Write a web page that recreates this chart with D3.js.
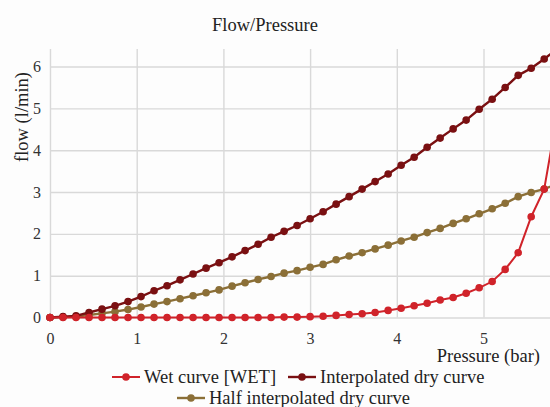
<!DOCTYPE html>
<html>
<head>
<meta charset="utf-8">
<script src="https://cdn.jsdelivr.net/npm/d3@7"></script>
<style>
  body { margin: 0; background: #fdfdfd; }
  svg text { font-family: "Liberation Serif", "Times New Roman", Times, "DejaVu Serif", serif; }
</style>
</head>
<body>
<svg id="chart"></svg>
<script>
// pressure (bar) at each sample
const pressure = [0, 0.15, 0.3, 0.45, 0.6, 0.75, 0.9, 1.05, 1.2, 1.35, 1.5, 1.65, 1.8, 1.95,
  2.1, 2.25, 2.4, 2.55, 2.7, 2.85, 3.0, 3.15, 3.3, 3.45, 3.6, 3.75, 3.9, 4.05,
  4.2, 4.35, 4.5, 4.65, 4.8, 4.95, 5.1, 5.25, 5.4, 5.55, 5.7, 5.85];

// flow (l/min)
const wetCurve = [0, 0, 0, 0, 0, 0, 0, 0, 0, 0, 0, 0, 0, 0,
  0, 0, 0, 0, 0.01, 0.01, 0.02, 0.03, 0.05, 0.07, 0.09, 0.12, 0.17, 0.22,
  0.28, 0.34, 0.42, 0.48, 0.58, 0.71, 0.86, 1.15, 1.55, 2.41, 3.07, 4.85];

const dryCurve = [0, 0.02, 0.04, 0.12, 0.2, 0.28, 0.38, 0.5, 0.64, 0.76, 0.9, 1.04, 1.18, 1.31,
  1.45, 1.6, 1.75, 1.92, 2.06, 2.2, 2.36, 2.53, 2.71, 2.89, 3.07, 3.25, 3.43, 3.64,
  3.83, 4.07, 4.29, 4.51, 4.72, 4.98, 5.22, 5.5, 5.79, 5.96, 6.18, 6.42];

const halfDryCurve = [0, 0.01, 0.02, 0.06, 0.1, 0.14, 0.19, 0.25, 0.32, 0.38, 0.45, 0.52, 0.59, 0.66,
  0.75, 0.83, 0.91, 0.98, 1.06, 1.12, 1.2, 1.27, 1.38, 1.47, 1.55, 1.64, 1.73, 1.83,
  1.92, 2.03, 2.13, 2.25, 2.36, 2.48, 2.6, 2.73, 2.89, 2.99, 3.07, 3.2];

const xTicks = [0, 1, 2, 3, 4, 5];
const yTicks = [0, 1, 2, 3, 4, 5, 6];

const series = [
  { name: 'Wet curve [WET]', values: wetCurve, color: '#d0232a', width: 2 },
  { name: 'Interpolated dry curve', values: dryCurve, color: '#7a1012', width: 2.4 },
  { name: 'Half interpolated dry curve', values: halfDryCurve, color: '#8b6f37', width: 2.4 }
];

const W = 550, H = 407;
const margin = { top: 49, right: 0, bottom: 89.5, left: 50 };
const serif = '"Liberation Serif", "Times New Roman", Times, "DejaVu Serif", serif';

const svg = d3.select('#chart').attr('width', W).attr('height', H);

const x = d3.scaleLinear().domain([0, 5.767]).range([margin.left, W - margin.right]);
const y = d3.scaleLinear().domain([0, 6.42]).range([H - margin.bottom, margin.top]);

svg.append('defs').append('clipPath').attr('id', 'plot-clip')
  .append('rect')
  .attr('x', margin.left - 5).attr('y', margin.top)
  .attr('width', W).attr('height', H - margin.bottom - margin.top + 5);

// gridlines
svg.append('g')
  .attr('transform', `translate(0, ${margin.top})`)
  .call(d3.axisBottom(x).tickValues(xTicks).tickSize(y(0) - margin.top).tickFormat(''))
  .call(g => g.select('.domain').remove())
  .call(g => g.selectAll('line').attr('stroke', '#d9d9d9').attr('stroke-width', 1.4));

svg.append('g')
  .attr('transform', `translate(${margin.left}, 0)`)
  .call(d3.axisRight(y).tickValues(yTicks).tickSize(W - margin.left).tickFormat(''))
  .call(g => g.select('.domain').remove())
  .call(g => g.selectAll('line').attr('stroke', '#d9d9d9').attr('stroke-width', 1.4));

// tick labels
svg.append('g')
  .attr('transform', `translate(0, ${y(0)})`)
  .attr('font-family', serif)
  .call(d3.axisBottom(x).tickValues(xTicks).tickSize(0).tickPadding(15).tickFormat(d3.format('d')))
  .call(g => g.select('.domain').remove())
  .call(g => g.selectAll('text').attr('font-size', 16).attr('fill', '#333'));

svg.append('g')
  .attr('transform', `translate(${margin.left}, 0)`)
  .call(d3.axisLeft(y).tickValues(yTicks).tickSize(0).tickPadding(9).tickFormat(d3.format('d')))
  .call(g => g.select('.domain').remove())
  .call(g => g.selectAll('text').attr('font-size', 16).attr('fill', '#333'));

// series
const plot = svg.append('g').attr('clip-path', 'url(#plot-clip)');
const line = d3.line().x((d, i) => x(pressure[i])).y(d => y(d));

series.slice().reverse().forEach(s => {
  plot.append('path')
    .datum(s.values)
    .attr('fill', 'none')
    .attr('stroke', s.color)
    .attr('stroke-width', s.width)
    .attr('d', line);
  plot.selectAll(null)
    .data(s.values)
    .enter()
    .append('circle')
    .attr('cx', (d, i) => x(pressure[i]))
    .attr('cy', d => y(d))
    .attr('r', 3.8)
    .attr('fill', s.color);
});

// title and axis labels
svg.append('text')
  .attr('x', 265).attr('y', 31)
  .attr('text-anchor', 'middle')
  .attr('font-size', 18.5).attr('fill', '#222')
  .text('Flow/Pressure');

svg.append('text')
  .attr('transform', 'rotate(-90)')
  .attr('x', -117).attr('y', 28)
  .attr('text-anchor', 'middle')
  .attr('font-size', 18.5).attr('fill', '#222')
  .text('flow (l/min)');

svg.append('text')
  .attr('x', 540).attr('y', 362)
  .attr('text-anchor', 'end')
  .attr('font-size', 18.5).attr('fill', '#222')
  .text('Pressure (bar)');

// legend
const legendPos = [[112, 377], [288, 377], [177, 398]];
series.forEach((s, i) => {
  const [lx, ly] = legendPos[i];
  const g = svg.append('g').attr('transform', `translate(${lx}, ${ly})`);
  g.append('line').attr('x1', 0).attr('x2', 28).attr('y1', 0).attr('y2', 0)
    .attr('stroke', s.color).attr('stroke-width', s.width);
  g.append('circle').attr('cx', 14).attr('cy', 0).attr('r', 3.8).attr('fill', s.color);
  g.append('text').attr('x', 32).attr('y', 6)
    .attr('font-size', 18.5).attr('fill', '#222')
    .text(s.name);
});
</script>
</body>
</html>
